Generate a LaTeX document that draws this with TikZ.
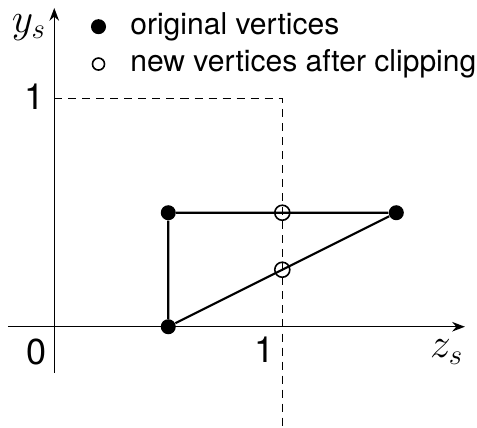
\documentclass[tikz,border=0pt]{standalone}
\usepackage{fontspec}
\setmainfont{TeX Gyre Heros}
\usetikzlibrary{arrows.meta}

\begin{document}
\begin{tikzpicture}[x=4cm,y=4cm,>=Stealth,
  orig/.style={circle,fill=black,inner sep=0pt,minimum size=7.5pt},
  newv/.style={circle,draw=black,line width=0.8pt,inner sep=0pt,minimum size=7.5pt},
  lbl/.style={font=\fontsize{15}{18}\selectfont,inner sep=1pt},
  num/.style={font=\fontsize{18}{21}\selectfont,inner sep=1pt},
  axlbl/.style={font=\fontsize{20}{24}\selectfont,inner sep=1pt}]
  \useasboundingbox (-0.238,-0.44) rectangle (1.854,1.433);
  % axes
  \coordinate (xl) at (-0.203,0);
  \coordinate (xr) at (1.801,0);
  \coordinate (yb) at (0,-0.202);
  \coordinate (yt) at (0,1.398);
  \draw[line width=0.75pt,->] (xl)--(xr);
  \draw[line width=0.75pt,->] (yb)--(yt);
  \node[axlbl] (ylab) at (-0.111,1.314){$y_s$};
  \node[axlbl] (zlab) at (1.721,-0.111){$z_s$};
  \node[num] (zero) at (-0.077,-0.110){0};
  \node[num] (xone) at (0.924,-0.102){1};
  \node[num] (yone) at (-0.085,1.007){1};
  % clip window
  \coordinate (w1) at (0,1);
  \coordinate (w2) at (1,1);
  \coordinate (w3) at (1,-0.44);
  \draw[line width=0.75pt,dash pattern=on 4pt off 3pt] (w1)--(w2)--(w3);
  % triangle
  \node[orig] (A) at (0.5,0){};
  \node[orig] (B) at (0.5,0.5){};
  \node[orig] (C) at (1.5,0.5){};
  \draw[line width=1.1pt] (A)--(B)--(C)--(A);
  \node[newv] (P) at (1,0.5){};
  \node[newv] (Q) at (1,0.25){};
  % legend
  \node[orig] (ko) at (0.194,1.316){};
  \node[newv,minimum size=6pt] (kn) at (0.194,1.152){};
  \node[lbl,anchor=west] (to) at (0.323,1.316){original vertices};
  \node[lbl,anchor=west] (tn) at (0.323,1.152){new vertices after clipping};
\end{tikzpicture}
\end{document}
